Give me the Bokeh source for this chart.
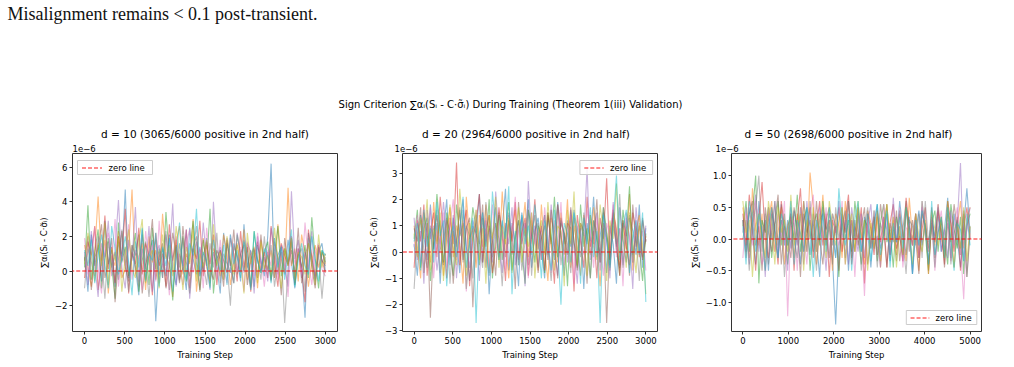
import numpy as np
from bokeh.plotting import figure
from bokeh.layouts import column, row
from bokeh.models import Range1d, ColumnDataSource, FixedTicker
from bokeh.core.properties import value
from bokeh.embed import file_html
from bokeh.resources import INLINE

# ---------------- text ----------------
PAGE_TEXT = "Misalignment remains < 0.1 post-transient."
SUPTITLE = "Sign Criterion \u2211\u03b1\u1d62(S\u1d62 - C\u00b7\u03c3\u0303\u1d62) During Training (Theorem 1(iii) Validation)"
YLABEL = "\u2211\u03b1\u1d62(S\u1d62 - C\u00b7\u03c3\u0303\u1d62)"
XLABEL = "Training Step"
LEGEND_LABEL = "zero line"

# ---------------- run settings ----------------
dims = [10, 20, 50]
positive_counts = [3065, 2964, 2698]
total_counts = [6000, 6000, 6000]
last_step = [2999, 2999, 4999]

x_ticks = [[0, 500, 1000, 1500, 2000, 2500, 3000],
           [0, 500, 1000, 1500, 2000, 2500, 3000],
           [0, 1000, 2000, 3000, 4000, 5000]]
y_ticks = [[-2, 0, 2, 4, 6],
           [-3, -2, -1, 0, 1, 2, 3],
           [-1.0, -0.5, 0.0, 0.5, 1.0]]
y_tick_labels = [["\u22122", "0", "2", "4", "6"],
                 ["\u22123", "\u22122", "\u22121", "0", "1", "2", "3"],
                 ["\u22121.0", "\u22120.5", "0.0", "0.5", "1.0"]]
x_limits = [(-150, 3150), (-150, 3150), (-250, 5250)]
y_limits = [(-3.494, 6.786), (-3.019, 3.741), (-1.46, 1.35)]
legend_corner = ["top_left", "top_right", "bottom_right"]

# ---------------- sign-criterion traces ----------------
# d = 10 and d = 20 in units of 1e-7, d = 50 in units of 1e-8
unit_scale = [0.1, 0.1, 0.01]

sign_d10 = [
    [8, -12, 21, 3, 15, -6, 29, 4, 12, -9, 17, 6, 47, -4, 10, 2, -14, 24, -5, 9, 18, -29, 6, 13, -3, 21, 1, -8, 16, 4, -11, 25, 7, -2, 14, 0, 19, -7, 11, 3, -13, 22, 5, -1, 16, 8, -6, 27, 2, 12, -9, 15, 6, -3, 20, 62, -4, 9, 14, -2, 18, 5, -10, 13, 3, -27, 22, 7, -5, 11, 16, 0],
    [15, 2, -9, 11, 43, 6, 18, -13, 9, 3, 23, -4, 1, 14, 47, -2, 8, 16, -11, 20, 5, 12, -7, 33, 9, 3, -15, 17, 26, -2, 10, 4, 30, -12, 7, 19, 2, -6, 13, 8, -3, 21, 11, -8, 5, 16, 0, 24, -5, 9, 14, -10, 18, 6, 1, 12, -4, 27, 7, -1, 48, 3, 13, -6, 21, 10, -9, 6, 15, 2, 11, 4],
    [2, 38, -5, 11, 24, -10, 7, 19, 3, -16, 28, 5, 14, -3, 9, 22, -12, 6, 17, -8, 25, 1, 13, -4, 34, 8, -17, 15, 2, 20, -6, 10, 29, 4, -11, 18, 3, 36, -13, 7, 12, -2, 16, 5, -7, 21, 9, 0, 14, -9, 23, 6, -1, 11, 17, -5, 8, 26, -3, 13, 4, 19, -8, 10, 2, 15, -4, 31, 7, -10, 12, 5],
    [-4, 17, 9, 26, -11, 5, 32, 1, 14, -7, 20, 8, 36, -13, 11, 4, 25, -2, 16, 9, -14, 22, 3, 10, -9, 27, 6, 18, -5, 2, 24, -10, 13, 7, 29, -3, 15, 4, 21, -8, 12, 6, -1, 19, 10, -6, 23, 2, 14, -12, 8, 17, 0, 11, -4, 26, 5, -9, 16, 9, 3, 20, -7, 13, 1, -18, 24, 8, -3, 15, 6, -1],
    [11, -8, 23, 4, -15, 16, 8, 29, -3, 12, 41, 2, -10, 18, 6, 37, -6, 13, 1, 26, -12, 9, 15, -4, 21, 7, 39, -9, 10, 3, 24, -16, 8, 17, -2, 28, 5, -11, 40, 6, 14, -5, 19, 2, -7, 22, 9, -1, 16, 11, -13, 20, 4, 8, -6, 25, 12, -2, 15, 3, -9, 46, 7, 18, -4, 11, 1, 23, -8, 14, 5, 10],
    [6, 20, -11, 8, 13, 27, -4, 5, 19, -18, 7, 23, 2, -6, 15, 9, 21, -13, 4, 11, 30, -5, 8, 16, -10, 3, 22, 10, -7, 26, 5, -3, 14, 20, -12, 9, 17, 1, -5, 12, 7, -9, 18, 3, 24, -2, 10, 15, -8, 6, 13, -4, 21, 0, 11, -6, 17, 8, -14, 19, 4, 12, -1, 25, -7, 9, 16, 2, -10, 14, 6, 3],
    [19, -2, 7, 25, 1, -13, 14, 22, 5, 30, -9, 10, 3, 27, -5, 12, 8, -11, 23, 6, 15, -6, 29, 2, 11, -14, 9, 20, 4, -8, 16, 24, -1, 7, 13, -10, 25, 6, 10, -4, 18, 2, -7, 21, 9, 0, 14, -12, 17, 5, -3, 22, 8, -9, 12, 3, 19, -5, 11, 7, -15, 20, 4, 13, -2, 28, 6, -8, 10, 16, 1, -3],
    [-10, 13, 5, -3, 20, 9, -16, 17, 2, 11, -5, 24, 7, -12, 15, 3, -9, 21, 6, -15, 10, 18, -2, 4, 23, -11, 8, 14, -6, 19, 1, -13, 12, 26, -3, 5, -8, 16, 2, 22, -7, 10, 4, -20, 14, 9, -1, 18, 3, -10, 12, 7, -5, 20, 0, 15, -9, 6, 11, -30, 2, 17, -4, 9, 13, -12, 19, 5, -6, 10, -16, 8],
    [4, 22, 10, -6, 16, 3, 28, -8, 13, 6, 19, -12, 9, 24, 1, -4, 17, 30, -7, 8, 12, 4, -10, 21, 7, 15, -3, 26, 9, -11, 14, 5, 23, -6, 10, 2, 18, -9, 27, 3, 11, -5, 20, 8, -2, 15, 6, -13, 22, 4, 12, -7, 17, 1, 9, -4, 25, 7, -10, 13, 3, 19, -6, 11, 8, -2, 16, 5, -8, 21, 2, 10],
    [12, 3, 18, -7, 9, 21, 4, -10, 26, 13, -2, 8, 20, 5, -14, 17, 2, 25, -6, 10, 6, 22, -9, 14, 3, 19, -12, 7, 28, 1, -5, 16, 9, 36, -3, 11, 5, -10, 18, 7, 0, 15, -8, 21, 4, 12, -4, 17, 9, -11, 23, 6, -1, 13, 8, -7, 19, 2, 14, -5, 10, 24, -9, 6, 16, 3, -2, 20, 7, -6, 12, 9],
]

sign_d20 = [
    [3, -9, 14, 6, -3, 18, 1, 11, -12, 8, 20, -5, 13, 4, -8, 16, 2, -11, 10, 7, 22, -4, 12, -16, 5, 17, -2, 9, 24, -7, 11, 3, -13, 15, 6, 20, -6, 8, 13, 1, -10, 14, 5, -3, 19, 7, -9, 12, 2, 16, -5, 9, -14, 11, 4, 21, -2, 6, 15, -8, 10, 3, -12, 17, 5, -4, 13, 8, -1, 18, -6, 9],
    [10, 2, -10, 15, 7, -4, 19, 4, 12, -9, 6, 17, -2, 10, 3, -12, 21, 5, 9, -6, 14, 2, 18, -8, 6, 11, -3, 23, 4, -10, 9, 16, -5, 7, 19, -2, 12, 5, -7, 18, 1, -11, 13, 8, -4, 15, 3, 20, -6, 10, 2, -9, 14, 6, -1, 17, 4, -13, 11, 7, -3, 16, 9, -5, 12, 1, 22, -7, 8, 14, -2, 6],
    [5, 16, -6, 9, 13, -11, 4, 22, 8, -4, 15, 1, -9, 18, 6, 11, -14, 3, 17, 9, -5, 13, 2, 20, -10, 7, 14, -3, 8, 19, -7, 5, 12, 1, -12, 16, 9, -4, 10, 6, -8, 15, 3, 21, -2, 11, 7, -13, 14, 4, -6, 18, 2, 9, -10, 12, 5, -1, 17, 8, -5, 13, 3, -9, 16, 6, 25, -4, 10, 2, -11, 7],
    [-6, 12, 4, 18, -9, 7, 15, -2, 21, 6, -10, 13, 3, 34, -5, 9, 16, -13, 5, 11, 22, -4, 8, 14, -8, 2, 17, 6, -11, 12, 4, 19, -3, 7, 13, -9, 5, 20, 1, 10, -7, 15, 3, -12, 18, 6, -1, 11, 9, -15, 14, 4, -6, 21, 2, 8, -10, 13, 5, 28, -3, 16, 7, -9, 11, 2, -5, 15, 8, -2, 12, 4],
    [13, -3, 8, -12, 16, 5, 10, -7, 3, 19, 6, -2, 14, -10, 9, 20, 2, -6, 12, 7, -11, 15, 4, 9, -4, 23, 6, -8, 11, 3, 17, -5, 8, 13, -13, 27, 5, 10, -6, 9, 14, -1, 18, 3, -9, 12, 7, -4, 16, 1, -12, 10, 6, 32, -3, 8, 15, -7, 11, 4, -10, 19, 2, 9, -5, 13, 6, -14, 17, 3, -2, 10],
    [9, 4, 17, -8, 11, -25, 6, 14, 2, -5, 12, 8, -12, 5, 16, -3, 9, 13, -21, 7, 3, 18, -6, 10, 4, -9, 15, 8, -2, 12, 6, -14, 19, 3, 11, -5, 7, 14, -8, 5, 10, -3, 16, 2, -10, 13, 6, -1, 17, 4, -7, 11, 8, -12, 14, 3, 20, -4, 9, -27, 6, 15, 1, -6, 12, 7, -9, 18, 2, 10, -3, 5],
    [2, 14, -4, 11, 6, 17, -10, 8, 3, 15, -6, 10, 20, -3, 7, 12, -15, 9, 5, 16, -2, 4, 13, -9, 18, 6, 1, 10, -7, 14, 8, 21, -4, 6, 11, -10, 15, 3, 9, -3, 17, 5, -8, 12, 2, 19, -5, 7, 14, -12, 10, 4, -1, 16, 8, -6, 13, 3, -9, 11, 6, 18, -2, 9, -13, 15, 5, -4, 12, 1, 8, -7],
    [-14, 7, 12, 1, -6, 10, 5, 16, -8, 4, 13, -12, 8, 2, 17, -4, 10, 6, -10, 14, 3, -6, 19, 7, -2, 11, 5, -13, 9, 15, -1, 6, 12, -7, 4, 16, -9, 8, 11, -3, 14, 2, -11, 9, 18, -5, 7, 3, -8, 13, 6, -2, 15, 1, -10, 12, 8, -4, 17, 5, -7, 10, 3, 22, -6, 9, 14, -1, 6, -11, 13, 4],
    [7, -2, 13, 5, 20, -7, 9, 3, 15, -11, 6, 18, 2, -5, 24, 8, -9, 11, 4, 16, -3, 9, -12, 14, 5, 21, -6, 10, 3, 13, -8, 7, 17, -4, 9, 2, 15, -10, 6, 12, -1, 19, 4, -7, 10, 8, -13, 16, 3, 23, -5, 11, 6, -9, 14, 2, -3, 18, 7, -11, 12, 5, 26, -2, 9, -6, 15, 4, -8, 11, 3, -16],
    [4, 11, -7, 16, 2, 9, -4, 19, 6, 12, -13, 5, 10, -2, 8, 21, -6, 4, 13, -27, 7, 15, 1, -9, 23, 9, -3, 12, 5, 25, -16, 8, -5, 14, 3, 10, -1, 18, 6, -10, 12, 4, -7, 16, 2, -20, 11, 7, -4, 15, 9, -12, 13, 3, 17, -2, 8, -27, 14, 5, -6, 11, 29, -3, 9, 16, -8, 6, 12, -1, 15, -19],
]

sign_d50 = [
    [30, -20, 50, 10, -40, 60, 0, 30, -50, 40, 20, -30, 55, -10, 30, -15, 45, 10, -40, 60, 20, -25, 40, 0, -60, 50, 15, 30, -30, -135, -10, 20, 45, -50, 30, 0, 50, -20, 35, 10, -45, 25, 55, -15, 5, 40, -35, 20, -5, 60, 15, -25, 35, -55, 10, 45, -10, 25, -40, 30, 5, 50, -20, 15, 65, -30, 40, 0, -45, 20, 80, 10],
    [50, 10, -30, 80, 20, -10, 40, -50, 30, 60, -20, 10, 50, -40, 20, 35, -30, 40, 0, 60, -20, 105, 50, -40, 10, 70, -10, 30, -50, 40, 20, -30, 60, 0, 30, -20, 50, 10, -40, 45, 25, -15, 35, -45, 15, 55, -5, 30, -25, 40, 10, -35, 65, 0, 20, -50, 45, 15, -20, 35, -10, 55, 5, -30, 40, 25, -45, 20, 60, -15, 30, 50],
    [20, 60, -20, 40, 100, -70, 30, 10, 50, -30, 20, 60, -10, 40, -40, 30, 0, 70, -20, 30, 50, -50, 20, 40, -10, 60, 10, -30, 40, 20, -60, 50, 0, 30, -20, 60, 10, -40, 30, 20, -15, 45, -35, 25, 55, -5, 15, -45, 35, 5, -25, 50, 20, -10, 40, -30, 60, 10, -50, 25, 45, -20, 30, 0, -40, 55, 15, -15, 35, -55, 20, 40],
    [40, -10, 70, 20, -50, 30, 90, 0, -30, 50, 10, -40, 60, 20, -10, 40, -50, 30, 80, -20, 10, 50, -30, 20, 60, -10, 40, -60, 30, 10, 50, -20, 30, 70, -40, 20, 0, 50, -70, 40, 15, -25, 45, -5, 35, -45, 25, 55, -15, 5, -35, 65, 20, -10, 40, -30, 15, 50, -55, 30, -5, 45, 10, -40, 60, 25, -20, 35, -50, 15, 50, 0],
    [10, 50, -40, 30, 70, -20, 20, -60, 40, 0, 60, -30, 30, 10, -50, 50, 20, -10, 40, -40, 60, 0, 30, -20, 50, 10, -50, 40, 20, -30, 60, 0, 30, -40, 50, 10, -20, 40, -30, 25, 55, -15, 5, -45, 35, 15, -25, 65, -5, 20, -35, 45, 10, -55, 30, -10, 50, 20, -40, 35, 0, 55, -20, 15, -30, 45, -10, 25, 120, -35, 20, 50],
    [30, -30, 40, 60, -10, 20, -50, 50, 10, -20, 30, 70, -40, 20, 0, -30, 50, 20, -60, 40, 10, 30, -20, 60, 0, -40, 30, 50, -10, 20, -50, 40, 10, 60, -30, 30, -10, 20, 50, -40, 5, 35, -25, 55, 15, -45, 25, -5, 45, -35, 15, 60, -20, 30, 0, -55, 40, 20, -15, 50, -30, 10, 35, -45, 25, -5, 55, 15, -25, 40, -60, 10],
    [-30, 40, 20, -10, 60, 30, -40, -20, 50, 10, -20, 40, 0, 60, -122, 20, 30, -50, 50, 10, -40, 40, 70, -20, 20, 0, 50, -30, 40, 10, -10, 60, -40, 20, 30, -60, 40, 10, -90, 30, -15, 45, 5, -35, 55, 20, -25, 35, -5, 50, -45, 15, 25, -10, 40, -30, 60, 5, -20, 35, -50, 15, 45, -15, 30, -35, 20, 50, -10, -95, 25, 0],
    [0, 30, -50, 20, 50, 100, -20, 40, -40, 10, 60, -10, 30, -60, 20, 40, 0, -30, 50, 20, -20, 60, 10, -50, 30, 40, -10, 20, -40, 50, 0, 30, -30, 60, 10, -20, 40, -50, 20, 50, -15, 35, -45, 25, 5, 55, -25, 15, -35, 45, 0, -55, 30, 20, -10, 40, -30, 60, -5, 25, -45, 35, 15, -20, 50, -40, 10, 30, -15, 45, -60, 20],
    [60, 10, 30, -60, 20, 40, 0, -30, 60, 20, -40, 50, 10, 30, -20, 70, -10, 20, 40, -50, 30, 0, 50, -20, 40, 10, -30, 60, 20, -10, 30, 50, -40, 10, 40, -20, 60, 0, 30, -50, 25, -15, 45, -35, 15, 55, -5, 35, -45, 20, -25, 50, 10, -40, 40, 5, -20, 30, -55, 45, 15, -10, 35, -30, 60, 0, -45, 25, -15, 50, -35, 20],
    [20, -40, 60, 30, -20, 40, 10, -50, 20, 50, 0, -30, 40, 20, -10, 60, -40, 30, 10, -20, 50, 20, -60, 30, 0, 40, -20, 50, 10, -30, 80, 20, -10, 40, -50, 30, 60, -20, 10, 40, -35, 15, 55, -25, 5, 45, -45, 25, -5, 35, -15, 50, 15, -55, 30, -10, 45, 20, -40, 60, -25, 10, 35, -30, 50, 0, -50, 25, 15, -35, 40, -10],
]

all_series = [sign_d10, sign_d20, sign_d50]

TAB10 = ["#1f77b4", "#ff7f0e", "#2ca02c", "#d62728", "#9467bd",
         "#8c564b", "#e377c2", "#7f7f7f", "#bcbd22", "#17becf"]

FONT_NAME = "DejaVu Sans"
FONT = value(FONT_NAME)
W, H = 1014, 367
HEADER_H = 152

# ---------------- layout geometry (pixels) ----------------
frame_left = [72, 394, 715]
frame_right = [337, 657, 981]
fig_edges = [0, 365, 686, W]
frame_top_pad = 1
frame_top = HEADER_H + frame_top_pad
frame_h = 178
bottom_pad = H - HEADER_H - frame_top_pad - frame_h

# legend box size and inner offsets (pixels)
LEG_W, LEG_H, LEG_PAD = 75, 14, 5
LEG_LINE = (4.5, 24.5)
LEG_TEXT_X = 31

# ---------------- header: page text, suptitle, panel titles ----------------
header = figure(width=W, height=HEADER_H, x_range=Range1d(0, W), y_range=Range1d(HEADER_H, 0),
                output_backend="svg", toolbar_location=None, title=None,
                min_border=0, outline_line_color=None)
header.axis.visible = False
header.grid.visible = False

header.text(x=[7], y=[13], text=[PAGE_TEXT], text_font=value("Liberation Serif"),
            text_font_size="18px", text_baseline="middle", text_align="left", text_color="#111111")
header.text(x=[510], y=[104], text=[SUPTITLE], text_font=FONT, text_font_size="10px",
            text_baseline="middle", text_align="center", text_color="#000000")

for i in range(3):
    cx = (frame_left[i] + frame_right[i]) / 2
    title = f"d = {dims[i]} ({positive_counts[i]}/{total_counts[i]} positive in 2nd half)"
    header.text(x=[cx], y=[133], text=[title], text_font=FONT, text_font_size="10.5px",
                text_baseline="middle", text_align="center", text_color="#000000")
    header.text(x=[frame_left[i]], y=[147.5], text=["1e\u22126"], text_font=FONT, text_font_size="8.5px",
                text_baseline="alphabetic", text_align="left", text_color="#000000")


def to_data(i, px, py):
    """Page pixel position -> data coordinates of panel i."""
    x0, x1 = x_limits[i]
    y0, y1 = y_limits[i]
    fw = frame_right[i] - frame_left[i]
    x = x0 + (px - frame_left[i]) / fw * (x1 - x0)
    y = y1 - (py - frame_top) / frame_h * (y1 - y0)
    return x, y


# ---------------- panels ----------------
panels = []
for i in range(3):
    fw = fig_edges[i + 1] - fig_edges[i]
    p = figure(width=fw, height=frame_top_pad + frame_h + bottom_pad,
               x_range=Range1d(*x_limits[i]), y_range=Range1d(*y_limits[i]),
               output_backend="svg", toolbar_location=None, title=None,
               min_border_left=frame_left[i] - fig_edges[i],
               min_border_right=fig_edges[i + 1] - frame_right[i],
               min_border_top=frame_top_pad, min_border_bottom=bottom_pad)
    p.grid.visible = False
    p.outline_line_color = "#333333"
    p.outline_line_width = 1
    p.background_fill_color = "white"
    p.border_fill_color = "white"

    series = [[v * unit_scale[i] for v in s] for s in all_series[i]]
    xs = [list(np.linspace(0, last_step[i], len(s))) for s in series]
    src = ColumnDataSource(dict(xs=xs, ys=series,
                                color=[TAB10[k % 10] for k in range(len(series))]))
    p.multi_line(xs="xs", ys="ys", line_color="color", line_alpha=0.5, line_width=1.1, source=src)

    # horizontal reference at zero
    p.line(x=[-100000, 100000], y=[0, 0], line_color="#ff0000", line_dash="4 2",
           line_width=1.1, line_alpha=0.9)

    for ax in (p.xaxis[0], p.yaxis[0]):
        ax.axis_line_color = None
        ax.major_tick_line_color = "#333333"
        ax.major_tick_out = 3
        ax.major_tick_in = 0
        ax.minor_tick_line_color = None
        ax.major_label_text_font = FONT_NAME
        ax.major_label_text_font_size = "8.5px"
        ax.major_label_text_color = "#000000"
        ax.major_label_standoff = 2
        ax.axis_label_text_font = FONT_NAME
        ax.axis_label_text_font_size = "8.5px"
        ax.axis_label_text_font_style = "normal"
        ax.axis_label_text_color = "#000000"
        ax.axis_label_standoff = 3

    p.xaxis.ticker = FixedTicker(ticks=x_ticks[i])
    p.xaxis.major_label_overrides = {t: str(t) for t in x_ticks[i]}
    p.yaxis.ticker = FixedTicker(ticks=y_ticks[i])
    p.yaxis.major_label_overrides = dict(zip(y_ticks[i], y_tick_labels[i]))
    p.xaxis.axis_label = XLABEL
    p.yaxis.axis_label = YLABEL

    # legend box for the zero line, placed in the panel corner
    corner = legend_corner[i]
    if corner.endswith("left"):
        bx0 = frame_left[i] + LEG_PAD
    else:
        bx0 = frame_right[i] - LEG_PAD - LEG_W
    if corner.startswith("top"):
        by0 = frame_top + 7
    else:
        by0 = frame_top + frame_h - 7 - LEG_H
    left, top = to_data(i, bx0, by0)
    right, bottom = to_data(i, bx0 + LEG_W, by0 + LEG_H)
    p.quad(left=[left], right=[right], top=[top], bottom=[bottom],
           fill_color="white", fill_alpha=0.85, line_color="#cccccc", line_width=1)
    ly = by0 + LEG_H / 2 + 0.5
    lx0, lyd = to_data(i, bx0 + LEG_LINE[0], ly)
    lx1, _ = to_data(i, bx0 + LEG_LINE[1], ly)
    p.line(x=[lx0, lx1], y=[lyd, lyd], line_color="#ff0000", line_dash="4 2",
           line_width=1.1, line_alpha=0.9)
    tx, tyd = to_data(i, bx0 + LEG_TEXT_X, by0 + LEG_H / 2)
    p.text(x=[tx], y=[tyd], text=[LEGEND_LABEL], text_font=FONT, text_font_size="8.5px",
           text_baseline="middle", text_align="left", text_color="#000000")
    panels.append(p)

layout = column(header, row(*panels, spacing=0), spacing=0)
open("out.html", "w").write(file_html(layout, INLINE))
